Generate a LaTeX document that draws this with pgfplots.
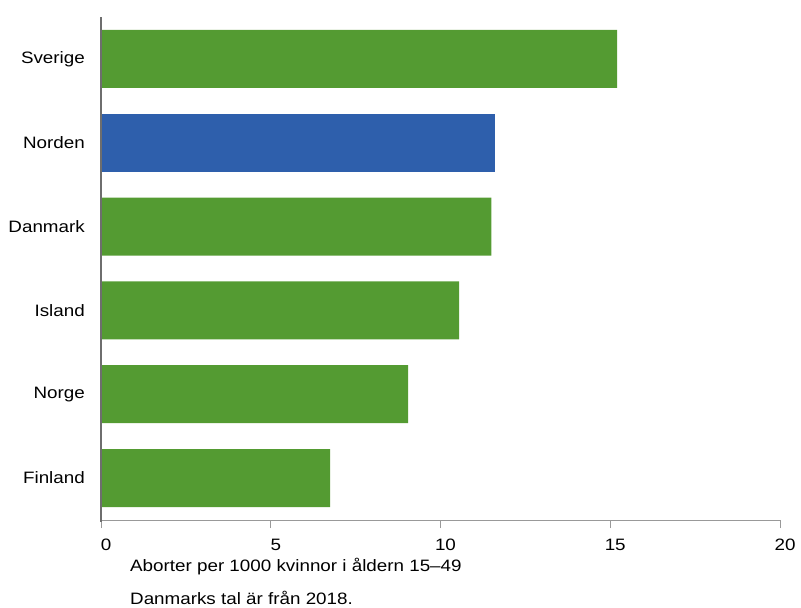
\documentclass[border=0pt]{standalone}
\usepackage{fontspec}
\setmainfont{Liberation Sans}[FakeStretch=1.14]
\usepackage{pgfplots}
\pgfplotsset{compat=1.18}
\definecolor{barGreen}{RGB}{84,155,50}
\definecolor{barBlue}{RGB}{46,95,172}
\definecolor{axisGray}{RGB}{110,110,110}
\begin{document}
\fontsize{16.5pt}{19pt}\selectfont
\begin{tikzpicture}
 % page = 801 x 608, axis box at (0,0)-(679,503)
 \useasboundingbox (-101pt,-88pt) rectangle (700pt,520pt);
 \begin{axis}[
   at={(0,0)}, anchor=south west,
   scale only axis, width=679pt, height=503pt,
   xbar, bar width=58pt, bar shift=0pt,
   xmin=0, xmax=20, ymin=-0.5, ymax=5.5,
   xtick={0,5,10,15,20},
   ytick={0,1,2,3,4,5},
   yticklabels={Finland,Norge,Island,Danmark,Norden,Sverige},
   axis x line*=bottom, axis y line*=left,
   separate axis lines,
   x axis line style={draw=gray!80, line width=0.9pt},
   tick align=outside, major tick length=8pt,
   xtick style={draw=gray!80, line width=0.9pt},
   ytick style={draw=none},
   /pgf/number format/assume math mode=true,
   xticklabel style={anchor=north, inner sep=0pt, yshift=-11pt, xshift=5pt},
   yticklabel style={anchor=east, inner sep=0pt, xshift=-8pt},
   tick label style={font=\fontsize{16.5pt}{19pt}\selectfont},
   clip=false,
 ]
  \addplot[draw=none, fill=barGreen] coordinates {
   (6.75,0) (9.05,1) (10.55,2) (11.5,3) (15.2,5)
  };
  \addplot[draw=none, fill=barBlue] coordinates {
   (11.6,4)
  };
  % heavy left axis line
  \draw[axisGray, line width=2.6pt] (axis cs:0,-0.52) -- (axis cs:0,5.5);
 \end{axis}
 \node[anchor=west, inner sep=0pt] at (29pt,-47pt) {Aborter per 1000 kvinnor i åldern 15–49};
 \node[anchor=west, inner sep=0pt] at (29pt,-78pt) {Danmarks tal är från 2018.};
\end{tikzpicture}
\end{document}
